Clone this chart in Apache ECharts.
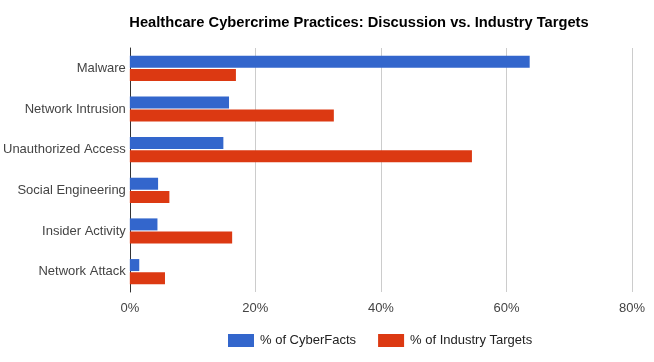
<!DOCTYPE html>
<html>
<head>
<meta charset="utf-8">
<script src="https://cdn.jsdelivr.net/npm/echarts@6/dist/echarts.min.js"></script>
<style>html,body{margin:0;padding:0;background:#fff}#c{width:654px;height:362px}</style>
</head>
<body>
<div id="c"></div>
<script>
var categories = ['Malware', 'Network Intrusion', 'Unauthorized Access', 'Social Engineering', 'Insider Activity', 'Network Attack'];
var cyberFacts = [63.7, 15.8, 14.9, 4.5, 4.4, 1.5];
var industryTargets = [16.9, 32.5, 54.5, 6.3, 16.3, 5.6];
var seriesNames = ['% of CyberFacts', '% of Industry Targets'];
var titleText = 'Healthcare Cybercrime Practices: Discussion vs. Industry Targets';

var chart = echarts.init(document.getElementById('c'), null, {renderer: 'canvas'});
var font = 'Arial, "Liberation Sans", sans-serif';
chart.setOption({
  animation: false,
  color: ['#3366cc', '#dc3912'],
  title: {
    text: titleText,
    left: 354, top: 10, textAlign: 'center',
    textStyle: {fontFamily: font, fontSize: 14.7, fontWeight: 'bold', color: '#000'}
  },
  legend: {
    left: 228, top: 334, padding: 0,
    itemWidth: 26, itemHeight: 13, itemGap: 22,
    icon: 'rect',
    textStyle: {fontFamily: font, fontSize: 13, color: '#222', padding: [0,0,0,1]},
    data: seriesNames
  },
  grid: {left: 129, right: 22, top: 48, bottom: 70, containLabel: false},
  xAxis: {
    type: 'value', min: 0, max: 80, interval: 20,
    axisLabel: {formatter: '{value}%', fontFamily: font, fontSize: 13, color: '#444', margin: 10},
    splitLine: {lineStyle: {color: '#cccccc', width: 1}},
    axisLine: {show: false}, axisTick: {show: false}
  },
  yAxis: {
    type: 'category', data: categories, inverse: true,
    axisLine: {show: true, lineStyle: {color: '#333', width: 1}},
    axisTick: {show: false},
    axisLabel: {fontFamily: font, fontSize: 13, color: '#444', margin: 4}
  },
  series: [
    {name: seriesNames[0], type: 'bar', data: cyberFacts, barWidth: 12, barGap: '10%'},
    {name: seriesNames[1], type: 'bar', data: industryTargets, barWidth: 12, barGap: '10%'}
  ]
});
</script>
</body>
</html>
